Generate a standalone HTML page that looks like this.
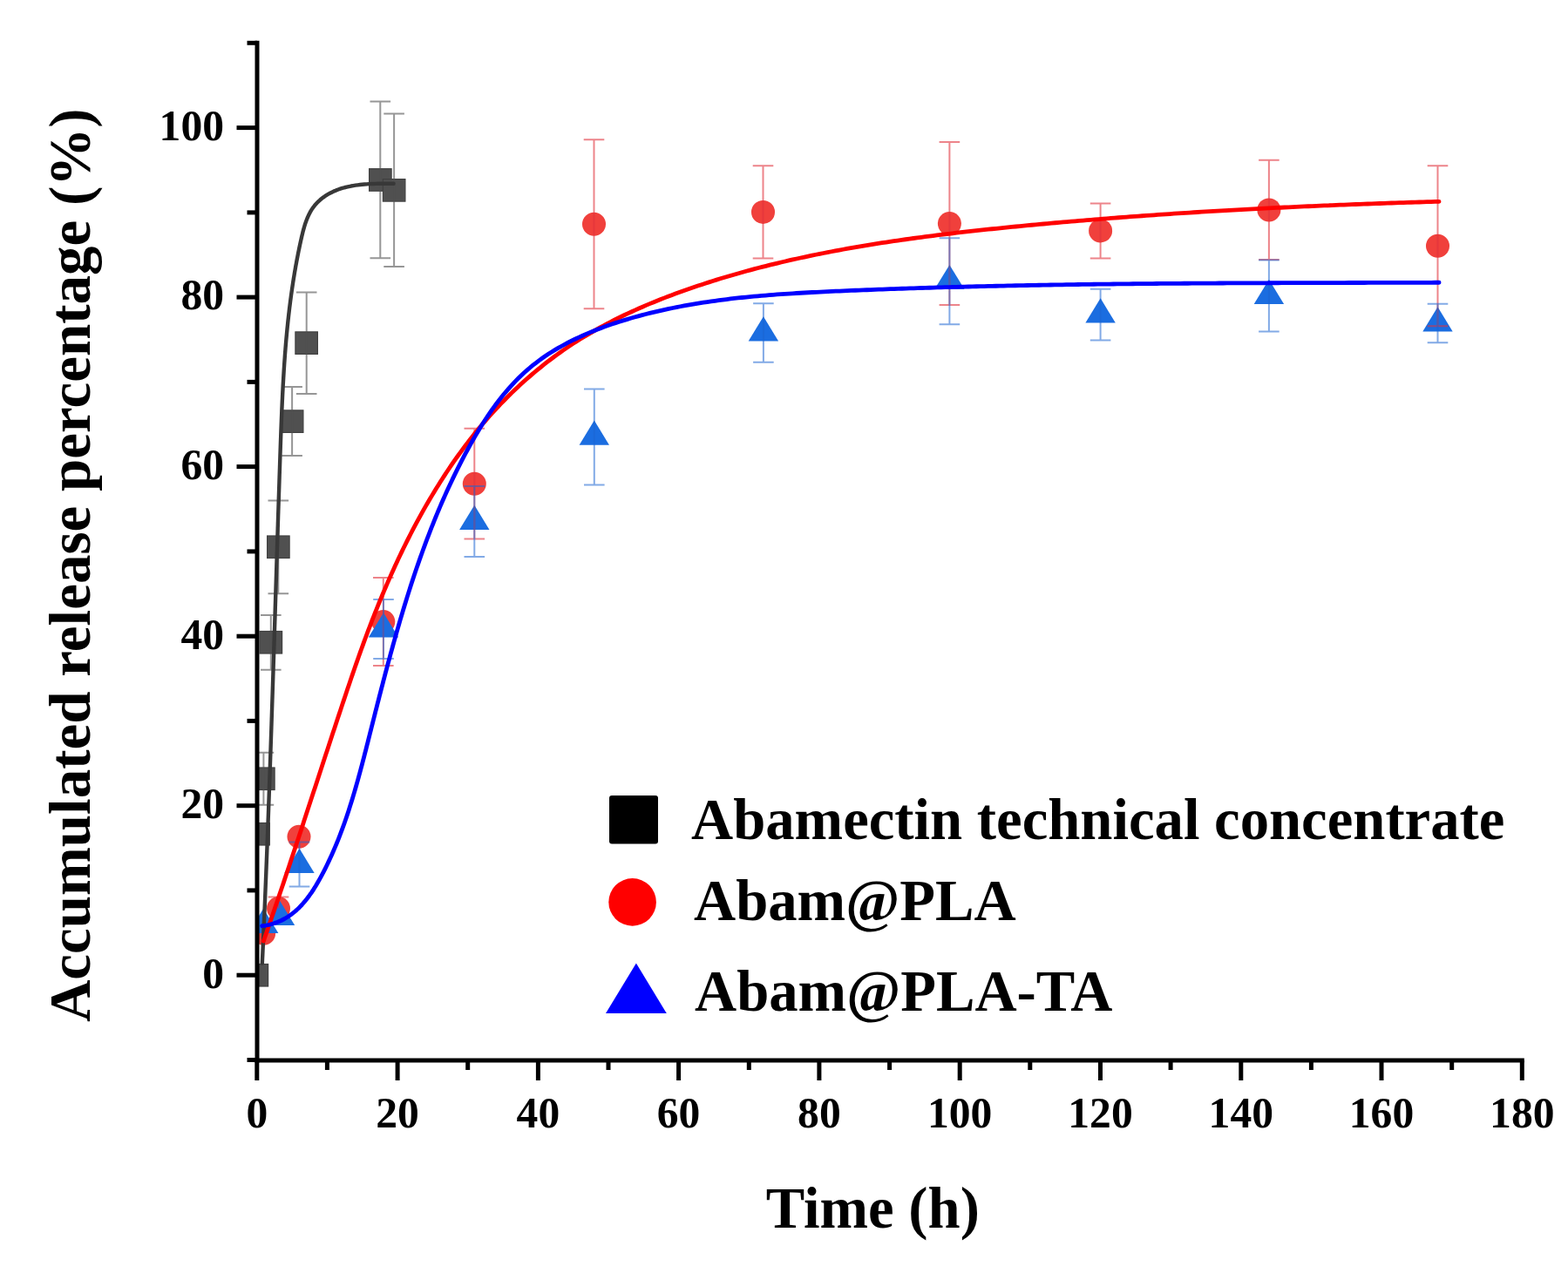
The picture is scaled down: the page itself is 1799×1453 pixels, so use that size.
<!DOCTYPE html>
<html><head><meta charset="utf-8"><title>Accumulated release percentage</title>
<style>html,body{margin:0;padding:0;background:#fff;width:1799px;height:1453px;overflow:hidden}svg{display:block}</style>
</head><body>
<svg width="1799" height="1453" viewBox="0 0 1799 1453">
<rect width="1799" height="1453" fill="#fff"/>
<style>
.tk{font-family:"Liberation Serif","Times New Roman",serif;font-weight:bold;font-size:49.6px;fill:#000}
.tt{font-family:"Liberation Serif","Times New Roman",serif;font-weight:bold;font-size:66.7px;fill:#000}
</style>
<defs><clipPath id="pc"><rect x="295" y="0" width="1504" height="1217"/></clipPath></defs>
<g id="markers" clip-path="url(#pc)">
<rect x="282.1" y="1106.5" width="25.5" height="25.5" fill="#505050" stroke="#404040" stroke-width="1.2"/>
<rect x="283.8" y="944.5" width="25.5" height="25.5" fill="#505050" stroke="#404040" stroke-width="1.2"/>
<rect x="289.6" y="881.0" width="25.5" height="25.5" fill="#505050" stroke="#404040" stroke-width="1.2"/>
<rect x="298.1" y="724.5" width="25.5" height="25.5" fill="#505050" stroke="#404040" stroke-width="1.2"/>
<rect x="306.6" y="615.0" width="25.5" height="25.5" fill="#505050" stroke="#404040" stroke-width="1.2"/>
<rect x="322.4" y="470.9" width="25.5" height="25.5" fill="#505050" stroke="#404040" stroke-width="1.2"/>
<rect x="338.9" y="380.9" width="25.5" height="25.5" fill="#505050" stroke="#404040" stroke-width="1.2"/>
<rect x="423.6" y="193.7" width="25.5" height="25.5" fill="#505050" stroke="#404040" stroke-width="1.2"/>
<rect x="439.4" y="205.6" width="25.5" height="25.5" fill="#505050" stroke="#404040" stroke-width="1.2"/>
<circle cx="302.6" cy="1071.2" r="13.5" fill="#f0403c"/>
<circle cx="319.5" cy="1042.6" r="13.5" fill="#f0403c"/>
<circle cx="343.0" cy="960.2" r="13.5" fill="#f0403c"/>
<circle cx="439.8" cy="713.5" r="13.5" fill="#f0403c"/>
<circle cx="544.3" cy="555.2" r="13.5" fill="#f0403c"/>
<circle cx="681.5" cy="257.2" r="13.5" fill="#f0403c"/>
<circle cx="875.5" cy="243.4" r="13.5" fill="#f0403c"/>
<circle cx="1089.4" cy="256.6" r="13.5" fill="#f0403c"/>
<circle cx="1262.6" cy="264.9" r="13.5" fill="#f0403c"/>
<circle cx="1455.9" cy="240.9" r="13.5" fill="#f0403c"/>
<circle cx="1649.5" cy="282.3" r="13.5" fill="#f0403c"/>
<path d="M302.2,1042.7 L319.4,1070.9 L285.0,1070.9 Z" fill="#1b6de0"/>
<path d="M321.0,1033.7 L338.2,1061.9 L303.8,1061.9 Z" fill="#1b6de0"/>
<path d="M343.5,973.7 L360.7,1001.9 L326.3,1001.9 Z" fill="#1b6de0"/>
<path d="M440.0,703.2 L457.2,731.4 L422.8,731.4 Z" fill="#1b6de0"/>
<path d="M544.3,579.7 L561.5,607.9 L527.1,607.9 Z" fill="#1b6de0"/>
<path d="M681.8,482.6 L699.0,510.8 L664.6,510.8 Z" fill="#1b6de0"/>
<path d="M875.9,363.2 L893.1,391.4 L858.7,391.4 Z" fill="#1b6de0"/>
<path d="M1089.4,303.9 L1106.6,332.1 L1072.2,332.1 Z" fill="#1b6de0"/>
<path d="M1262.6,342.3 L1279.8,370.5 L1245.4,370.5 Z" fill="#1b6de0"/>
<path d="M1455.9,320.7 L1473.1,348.9 L1438.7,348.9 Z" fill="#1b6de0"/>
<path d="M1649.5,352.2 L1666.7,380.4 L1632.3,380.4 Z" fill="#1b6de0"/>
</g>
<g id="err" clip-path="url(#pc)">
<path d="M302.4,863.7 V923.7 M290.6,863.7 H314.2 M290.6,923.7 H314.2" stroke="rgba(80,80,80,0.6)" stroke-width="2" fill="none"/>
<path d="M310.8,705.9 V768.7 M299.0,705.9 H322.6 M299.0,768.7 H322.6" stroke="rgba(80,80,80,0.6)" stroke-width="2" fill="none"/>
<path d="M319.3,574.4 V681.2 M307.5,574.4 H331.1 M307.5,681.2 H331.1" stroke="rgba(80,80,80,0.6)" stroke-width="2" fill="none"/>
<path d="M335.1,444.1 V523.1 M323.3,444.1 H346.9 M323.3,523.1 H346.9" stroke="rgba(80,80,80,0.6)" stroke-width="2" fill="none"/>
<path d="M351.7,335.5 V451.9 M339.9,335.5 H363.5 M339.9,451.9 H363.5" stroke="rgba(80,80,80,0.6)" stroke-width="2" fill="none"/>
<path d="M436.3,116.5 V296.3 M424.5,116.5 H448.1 M424.5,296.3 H448.1" stroke="rgba(80,80,80,0.6)" stroke-width="2" fill="none"/>
<path d="M452.1,130.6 V306.0 M440.3,130.6 H463.9 M440.3,306.0 H463.9" stroke="rgba(80,80,80,0.6)" stroke-width="2" fill="none"/>
<path d="M319.5,1029.6 V1042.6 M307.7,1029.6 H331.3" stroke="rgba(225,50,60,0.6)" stroke-width="2" fill="none"/>
<path d="M439.8,663.0 V764.0 M428.0,663.0 H451.6 M428.0,764.0 H451.6" stroke="rgba(225,50,60,0.6)" stroke-width="2" fill="none"/>
<path d="M544.3,491.8 V618.6 M532.5,491.8 H556.1 M532.5,618.6 H556.1" stroke="rgba(225,50,60,0.6)" stroke-width="2" fill="none"/>
<path d="M681.5,160.2 V354.2 M669.7,160.2 H693.3 M669.7,354.2 H693.3" stroke="rgba(225,50,60,0.6)" stroke-width="2" fill="none"/>
<path d="M875.5,190.2 V296.6 M863.7,190.2 H887.3 M863.7,296.6 H887.3" stroke="rgba(225,50,60,0.6)" stroke-width="2" fill="none"/>
<path d="M1089.4,163.1 V350.1 M1077.6,163.1 H1101.2 M1077.6,350.1 H1101.2" stroke="rgba(225,50,60,0.6)" stroke-width="2" fill="none"/>
<path d="M1262.6,233.4 V296.4 M1250.8,233.4 H1274.4 M1250.8,296.4 H1274.4" stroke="rgba(225,50,60,0.6)" stroke-width="2" fill="none"/>
<path d="M1455.9,183.7 V298.1 M1444.1,183.7 H1467.7 M1444.1,298.1 H1467.7" stroke="rgba(225,50,60,0.6)" stroke-width="2" fill="none"/>
<path d="M1649.5,190.3 V374.3 M1637.7,190.3 H1661.3 M1637.7,374.3 H1661.3" stroke="rgba(225,50,60,0.6)" stroke-width="2" fill="none"/>
<path d="M343.5,966.5 V1017.5 M331.7,966.5 H355.3 M331.7,1017.5 H355.3" stroke="rgba(27,100,210,0.55)" stroke-width="2" fill="none"/>
<path d="M440.0,688.0 V756.0 M428.2,688.0 H451.8 M428.2,756.0 H451.8" stroke="rgba(27,100,210,0.55)" stroke-width="2" fill="none"/>
<path d="M544.3,558.0 V639.0 M532.5,558.0 H556.1 M532.5,639.0 H556.1" stroke="rgba(27,100,210,0.55)" stroke-width="2" fill="none"/>
<path d="M681.8,446.4 V556.4 M670.0,446.4 H693.6 M670.0,556.4 H693.6" stroke="rgba(27,100,210,0.55)" stroke-width="2" fill="none"/>
<path d="M875.9,348.2 V415.8 M864.1,348.2 H887.7 M864.1,415.8 H887.7" stroke="rgba(27,100,210,0.55)" stroke-width="2" fill="none"/>
<path d="M1089.4,273.2 V372.2 M1077.6,273.2 H1101.2 M1077.6,372.2 H1101.2" stroke="rgba(27,100,210,0.55)" stroke-width="2" fill="none"/>
<path d="M1262.6,331.8 V390.4 M1250.8,331.8 H1274.4 M1250.8,390.4 H1274.4" stroke="rgba(27,100,210,0.55)" stroke-width="2" fill="none"/>
<path d="M1455.9,298.5 V380.5 M1444.1,298.5 H1467.7 M1444.1,380.5 H1467.7" stroke="rgba(27,100,210,0.55)" stroke-width="2" fill="none"/>
<path d="M1649.5,348.8 V393.2 M1637.7,348.8 H1661.3 M1637.7,393.2 H1661.3" stroke="rgba(27,100,210,0.55)" stroke-width="2" fill="none"/>
</g>
<g id="curves" fill="none" stroke-linejoin="round" stroke-linecap="round">
<path d="M300.83,1105.57 L300.94,1103.13 L301.06,1100.70 L301.17,1098.26 L301.28,1095.82 L301.39,1093.39 L301.50,1090.95 L301.62,1088.51 L301.73,1086.08 L301.84,1083.64 L301.95,1081.20 L302.05,1078.77 L302.16,1076.33 L302.27,1073.90 L302.38,1071.46 L302.49,1069.02 L302.60,1066.59 L302.70,1064.15 L302.81,1061.71 L302.92,1059.28 L303.02,1056.84 L303.13,1054.41 L303.23,1051.97 L303.34,1049.53 L303.44,1047.10 L303.54,1044.66 L303.65,1042.22 L303.75,1039.79 L303.85,1037.35 L303.96,1034.92 L304.06,1032.48 L304.16,1030.04 L304.26,1027.61 L304.36,1025.17 L304.46,1022.74 L304.56,1020.30 L304.66,1017.86 L304.76,1015.43 L304.86,1012.99 L304.96,1010.56 L305.06,1008.12 L305.16,1005.68 L305.26,1003.25 L305.35,1000.81 L305.45,998.38 L305.55,995.94 L305.64,993.50 L305.74,991.07 L305.84,988.63 L305.93,986.20 L306.03,983.76 L306.12,981.32 L306.22,978.89 L306.31,976.45 L306.41,974.02 L306.50,971.58 L306.59,969.14 L306.69,966.71 L306.78,964.27 L306.87,961.84 L306.97,959.40 L307.06,956.96 L307.15,954.53 L307.24,952.09 L307.33,949.66 L307.42,947.22 L307.52,944.79 L307.61,942.35 L307.70,939.91 L307.79,937.48 L307.88,935.04 L307.97,932.61 L308.06,930.17 L308.14,927.73 L308.23,925.30 L308.32,922.86 L308.41,920.43 L308.50,917.99 L308.59,915.56 L308.67,913.12 L308.76,910.68 L308.85,908.25 L308.94,905.81 L309.02,903.38 L309.11,900.94 L309.19,898.51 L309.28,896.07 L309.37,893.63 L309.45,891.20 L309.54,888.76 L309.62,886.33 L309.71,883.89 L309.79,881.46 L309.88,879.02 L309.96,876.58 L310.05,874.15 L310.13,871.71 L310.21,869.28 L310.30,866.84 L310.38,864.40 L310.46,861.97 L310.55,859.53 L310.63,857.10 L310.71,854.66 L310.80,852.23 L310.88,849.79 L310.96,847.35 L311.04,844.92 L311.12,842.48 L311.21,840.05 L311.29,837.61 L311.37,835.18 L311.45,832.74 L311.53,830.30 L311.61,827.87 L311.69,825.43 L311.77,823.00 L311.85,820.56 L311.93,818.13 L312.01,815.69 L312.09,813.25 L312.17,810.82 L312.25,808.38 L312.33,805.95 L312.41,803.51 L312.49,801.07 L312.57,798.64 L312.65,796.20 L312.73,793.77 L312.81,791.33 L312.89,788.90 L312.97,786.46 L313.05,784.02 L313.13,781.59 L313.20,779.15 L313.28,776.72 L313.36,774.28 L313.44,771.85 L313.52,769.41 L313.60,766.97 L313.67,764.54 L313.75,762.10 L313.83,759.67 L313.91,757.23 L313.99,754.79 L314.06,752.36 L314.14,749.92 L314.22,747.49 L314.30,745.05 L314.37,742.61 L314.45,740.18 L314.53,737.74 L314.61,735.31 L314.68,732.87 L314.76,730.43 L314.84,728.00 L314.91,725.56 L314.99,723.13 L315.07,720.69 L315.15,718.25 L315.22,715.82 L315.30,713.38 L315.38,710.95 L315.45,708.51 L315.53,706.07 L315.61,703.64 L315.68,701.20 L315.76,698.77 L315.84,696.33 L315.91,693.89 L315.99,691.46 L316.07,689.02 L316.14,686.59 L316.22,684.15 L316.30,681.71 L316.37,679.28 L316.45,676.84 L316.53,674.40 L316.60,671.97 L316.68,669.53 L316.76,667.10 L316.84,664.66 L316.91,662.22 L316.99,659.79 L317.07,657.35 L317.14,654.91 L317.22,652.48 L317.30,650.04 L317.37,647.60 L317.45,645.17 L317.53,642.73 L317.61,640.30 L317.68,637.86 L317.76,635.42 L317.84,632.99 L317.92,630.55 L317.99,628.11 L318.07,625.68 L318.15,623.24 L318.23,620.80 L318.30,618.37 L318.38,615.93 L318.46,613.49 L318.54,611.06 L318.62,608.62 L318.69,606.18 L318.77,603.75 L318.85,601.31 L318.93,598.87 L319.01,596.44 L319.09,594.00 L319.16,591.56 L319.24,589.13 L319.32,586.69 L319.40,584.25 L319.48,581.82 L319.56,579.38 L319.64,576.94 L319.72,574.51 L319.80,572.07 L319.88,569.63 L319.96,567.20 L320.04,564.76 L320.12,562.32 L320.20,559.89 L320.28,557.45 L320.36,555.01 L320.44,552.57 L320.52,550.14 L320.60,547.70 L320.68,545.26 L320.76,542.83 L320.85,540.39 L320.93,537.95 L321.01,535.51 L321.09,533.08 L321.17,530.64 L321.25,528.20 L321.34,525.77 L321.42,523.33 L321.50,520.89 L321.58,518.45 L321.67,516.02 L321.75,513.58 L321.83,511.14 L321.92,508.70 L322.00,506.27 L322.09,503.83 L322.18,501.39 L322.26,498.96 L322.35,496.52 L322.44,494.08 L322.53,491.64 L322.62,489.21 L322.71,486.77 L322.81,484.33 L322.90,481.90 L323.00,479.46 L323.10,477.02 L323.19,474.59 L323.30,472.15 L323.40,469.71 L323.50,467.28 L323.61,464.84 L323.72,462.41 L323.83,459.97 L323.95,457.53 L324.06,455.10 L324.18,452.66 L324.30,450.23 L324.43,447.79 L324.55,445.36 L324.68,442.92 L324.81,440.49 L324.95,438.06 L325.09,435.62 L325.23,433.19 L325.37,430.76 L325.52,428.32 L325.67,425.89 L325.83,423.46 L325.99,421.02 L326.15,418.59 L326.31,416.16 L326.48,413.73 L326.66,411.30 L326.83,408.87 L327.01,406.44 L327.20,404.01 L327.39,401.58 L327.58,399.15 L327.78,396.72 L327.98,394.29 L328.19,391.86 L328.40,389.43 L328.62,387.00 L328.84,384.58 L329.07,382.15 L329.30,379.72 L329.54,377.30 L329.78,374.87 L330.03,372.44 L330.28,370.02 L330.54,367.60 L330.80,365.17 L331.07,362.75 L331.35,360.32 L331.63,357.90 L331.91,355.48 L332.21,353.06 L332.50,350.64 L332.81,348.21 L333.12,345.79 L333.44,343.37 L333.76,340.96 L334.09,338.54 L334.43,336.12 L334.77,333.70 L335.12,331.28 L335.48,328.87 L335.84,326.45 L336.21,324.03 L336.59,321.62 L336.97,319.20 L337.37,316.79 L337.77,314.38 L338.17,311.96 L338.59,309.55 L339.01,307.14 L339.44,304.73 L339.88,302.32 L340.32,299.91 L340.78,297.50 L341.24,295.09 L341.71,292.69 L342.18,290.28 L342.67,287.87 L343.16,285.47 L343.67,283.06 L344.18,280.66 L344.70,278.25 L345.22,275.85 L345.76,273.45 L346.31,271.05 L346.88,268.66 L347.47,266.28 L348.09,263.92 L348.74,261.57 L349.42,259.25 L350.15,256.95 L350.92,254.68 L351.74,252.45 L352.62,250.25 L353.56,248.09 L354.56,245.98 L355.63,243.92 L356.78,241.91 L358.00,239.95 L359.31,238.05 L360.71,236.22 L362.20,234.45 L363.77,232.75 L365.43,231.11 L367.16,229.54 L368.97,228.03 L370.84,226.59 L372.79,225.22 L374.81,223.91 L376.88,222.68 L379.01,221.51 L381.20,220.41 L383.44,219.37 L385.72,218.41 L388.05,217.52 L390.43,216.69 L392.84,215.94 L395.28,215.25 L397.75,214.62 L400.25,214.05 L402.77,213.54 L405.31,213.09 L407.86,212.68 L410.42,212.32 L412.99,212.01 L415.56,211.74 L418.13,211.51 L420.69,211.32 L423.24,211.16 L425.78,211.03 L428.30,210.93 L430.79,210.85 L433.27,210.79 L435.71,210.76 L438.12,210.74 L440.49,210.73 L442.82,210.73 L445.10,210.74 L447.33,210.75 L449.51,210.77 L451.64,210.78" stroke="#383838" stroke-width="4.4"/>
<path d="M302.32,1080.14 L303.84,1075.79 L305.36,1071.44 L306.87,1067.09 L308.37,1062.75 L309.87,1058.41 L311.37,1054.07 L312.86,1049.74 L314.34,1045.41 L315.82,1041.08 L317.30,1036.75 L318.77,1032.43 L320.23,1028.11 L321.70,1023.80 L323.15,1019.49 L324.61,1015.18 L326.06,1010.87 L327.50,1006.57 L328.94,1002.27 L330.38,997.97 L331.81,993.68 L333.25,989.38 L334.67,985.10 L336.10,980.81 L337.52,976.53 L338.94,972.25 L340.35,967.97 L341.77,963.70 L343.18,959.42 L344.58,955.16 L345.99,950.89 L347.39,946.63 L348.79,942.36 L350.19,938.11 L351.59,933.85 L352.98,929.60 L354.38,925.35 L355.77,921.10 L357.16,916.85 L358.55,912.61 L359.94,908.37 L361.33,904.13 L362.71,899.90 L364.10,895.67 L365.48,891.44 L366.86,887.21 L368.25,882.98 L369.63,878.76 L371.01,874.54 L372.40,870.32 L373.78,866.10 L375.16,861.89 L376.54,857.68 L377.93,853.47 L379.31,849.26 L380.70,845.06 L382.08,840.85 L383.47,836.65 L384.85,832.45 L386.24,828.26 L387.63,824.06 L389.02,819.87 L390.41,815.68 L391.80,811.49 L393.20,807.31 L394.60,803.12 L395.99,798.94 L397.40,794.76 L398.80,790.58 L400.21,786.40 L401.63,782.23 L403.05,778.06 L404.48,773.88 L405.91,769.71 L407.35,765.55 L408.81,761.38 L410.27,757.21 L411.74,753.05 L413.22,748.89 L414.71,744.72 L416.22,740.56 L417.74,736.41 L419.27,732.25 L420.82,728.09 L422.38,723.94 L423.95,719.79 L425.54,715.63 L427.15,711.48 L428.77,707.34 L430.40,703.19 L432.06,699.05 L433.72,694.91 L435.41,690.77 L437.12,686.63 L438.84,682.50 L440.58,678.37 L442.34,674.24 L444.11,670.11 L445.91,665.99 L447.73,661.87 L449.56,657.75 L451.42,653.64 L453.30,649.53 L455.20,645.42 L457.12,641.32 L459.06,637.22 L461.02,633.13 L463.01,629.04 L465.02,624.96 L467.05,620.89 L469.10,616.82 L471.17,612.77 L473.27,608.72 L475.39,604.68 L477.53,600.65 L479.70,596.64 L481.89,592.63 L484.10,588.63 L486.33,584.65 L488.59,580.68 L490.88,576.72 L493.19,572.78 L495.52,568.85 L497.88,564.93 L500.26,561.03 L502.67,557.15 L505.10,553.28 L507.55,549.43 L510.04,545.59 L512.55,541.78 L515.08,537.98 L517.64,534.20 L520.23,530.44 L522.84,526.70 L525.48,522.99 L528.15,519.29 L530.84,515.61 L533.56,511.96 L536.31,508.33 L539.08,504.73 L541.88,501.14 L544.71,497.59 L547.57,494.05 L550.46,490.55 L553.37,487.06 L556.32,483.61 L559.29,480.18 L562.29,476.78 L565.32,473.41 L568.38,470.07 L571.47,466.75 L574.58,463.47 L577.73,460.21 L580.90,456.99 L584.10,453.80 L587.33,450.63 L590.59,447.50 L593.88,444.40 L597.19,441.33 L600.53,438.29 L603.90,435.29 L607.30,432.32 L610.72,429.38 L614.17,426.48 L617.64,423.61 L621.14,420.77 L624.67,417.97 L628.22,415.20 L631.80,412.47 L635.41,409.77 L639.04,407.11 L642.70,404.49 L646.38,401.90 L650.09,399.36 L653.82,396.84 L657.57,394.37 L661.35,391.93 L665.16,389.53 L668.99,387.17 L672.84,384.85 L676.71,382.56 L680.60,380.30 L684.52,378.08 L688.46,375.90 L692.41,373.75 L696.39,371.63 L700.39,369.55 L704.40,367.50 L708.43,365.48 L712.48,363.49 L716.55,361.53 L720.63,359.60 L724.73,357.71 L728.85,355.84 L732.97,354.00 L737.12,352.19 L741.27,350.41 L745.44,348.65 L749.63,346.92 L753.82,345.22 L758.03,343.55 L762.24,341.89 L766.47,340.27 L770.71,338.67 L774.96,337.09 L779.21,335.53 L783.48,334.00 L787.75,332.49 L792.03,331.00 L796.31,329.53 L800.60,328.08 L804.90,326.66 L809.20,325.25 L813.51,323.86 L817.82,322.50 L822.14,321.15 L826.47,319.82 L830.80,318.51 L835.13,317.22 L839.47,315.94 L843.82,314.69 L848.17,313.45 L852.52,312.24 L856.88,311.04 L861.25,309.85 L865.62,308.69 L869.99,307.54 L874.37,306.41 L878.75,305.30 L883.14,304.20 L887.53,303.12 L891.93,302.05 L896.33,301.01 L900.73,299.97 L905.14,298.96 L909.56,297.95 L913.97,296.97 L918.39,296.00 L922.82,295.04 L927.25,294.10 L931.68,293.17 L936.12,292.26 L940.55,291.36 L945.00,290.48 L949.44,289.60 L953.89,288.75 L958.35,287.90 L962.80,287.07 L967.26,286.25 L971.72,285.45 L976.19,284.65 L980.66,283.87 L985.13,283.10 L989.60,282.35 L994.08,281.60 L998.56,280.87 L1003.04,280.14 L1007.52,279.43 L1012.01,278.73 L1016.50,278.04 L1020.99,277.36 L1025.49,276.70 L1029.98,276.04 L1034.48,275.39 L1038.98,274.75 L1043.48,274.12 L1047.99,273.50 L1052.49,272.89 L1057.00,272.29 L1061.51,271.69 L1066.02,271.11 L1070.53,270.53 L1075.05,269.96 L1079.56,269.40 L1084.08,268.85 L1088.60,268.31 L1093.12,267.77 L1097.64,267.24 L1102.16,266.71 L1106.68,266.20 L1111.20,265.69 L1115.73,265.18 L1120.25,264.69 L1124.78,264.19 L1129.31,263.71 L1133.83,263.23 L1138.36,262.75 L1142.89,262.28 L1147.42,261.82 L1151.95,261.36 L1156.47,260.90 L1161.00,260.45 L1165.53,260.01 L1170.06,259.57 L1174.59,259.13 L1179.12,258.69 L1183.65,258.26 L1188.18,257.84 L1192.71,257.41 L1197.24,256.99 L1201.77,256.58 L1206.30,256.17 L1210.83,255.76 L1215.36,255.36 L1219.89,254.96 L1224.42,254.56 L1228.95,254.17 L1233.48,253.78 L1238.01,253.40 L1242.54,253.02 L1247.07,252.64 L1251.61,252.27 L1256.14,251.90 L1260.67,251.53 L1265.20,251.17 L1269.73,250.81 L1274.26,250.45 L1278.79,250.10 L1283.33,249.75 L1287.86,249.41 L1292.39,249.07 L1296.92,248.73 L1301.45,248.39 L1305.99,248.06 L1310.52,247.74 L1315.05,247.41 L1319.58,247.09 L1324.12,246.77 L1328.65,246.46 L1333.18,246.15 L1337.72,245.84 L1342.25,245.53 L1346.78,245.23 L1351.32,244.94 L1355.85,244.64 L1360.39,244.35 L1364.92,244.06 L1369.45,243.77 L1373.99,243.49 L1378.52,243.21 L1383.06,242.94 L1387.59,242.66 L1392.13,242.39 L1396.67,242.13 L1401.20,241.86 L1405.74,241.60 L1410.27,241.34 L1414.81,241.09 L1419.35,240.83 L1423.88,240.58 L1428.42,240.34 L1432.96,240.09 L1437.50,239.85 L1442.03,239.61 L1446.57,239.38 L1451.11,239.14 L1455.65,238.91 L1460.19,238.69 L1464.73,238.46 L1469.26,238.24 L1473.80,238.02 L1478.34,237.80 L1482.88,237.59 L1487.42,237.38 L1491.96,237.17 L1496.50,236.96 L1501.04,236.76 L1505.59,236.56 L1510.13,236.36 L1514.67,236.16 L1519.21,235.97 L1523.75,235.78 L1528.29,235.59 L1532.84,235.40 L1537.38,235.21 L1541.92,235.03 L1546.47,234.85 L1551.01,234.68 L1555.55,234.50 L1560.10,234.33 L1564.64,234.16 L1569.19,233.99 L1573.73,233.82 L1578.28,233.66 L1582.82,233.49 L1587.37,233.33 L1591.92,233.18 L1596.46,233.02 L1601.01,232.87 L1605.56,232.72 L1610.10,232.57 L1614.65,232.42 L1619.20,232.27 L1623.75,232.13 L1628.30,231.99 L1632.85,231.85 L1637.40,231.71 L1641.95,231.57 L1646.50,231.44 L1651.05,231.31" stroke="#ff0000" stroke-width="4.8"/>
<path d="M300.64,1062.71 L305.40,1062.02 L309.98,1061.04 L314.37,1059.79 L318.57,1058.27 L322.60,1056.50 L326.47,1054.50 L330.17,1052.27 L333.72,1049.84 L337.12,1047.20 L340.39,1044.38 L343.52,1041.39 L346.52,1038.24 L349.40,1034.94 L352.17,1031.51 L354.84,1027.96 L357.41,1024.31 L359.88,1020.56 L362.27,1016.73 L364.58,1012.83 L366.82,1008.87 L368.99,1004.88 L371.11,1000.85 L373.17,996.81 L375.18,992.75 L377.14,988.66 L379.05,984.56 L380.92,980.45 L382.74,976.31 L384.51,972.16 L386.25,968.00 L387.94,963.82 L389.59,959.62 L391.20,955.41 L392.78,951.19 L394.32,946.95 L395.83,942.71 L397.30,938.45 L398.74,934.17 L400.15,929.89 L401.53,925.60 L402.89,921.30 L404.22,916.98 L405.53,912.66 L406.81,908.33 L408.07,904.00 L409.31,899.65 L410.53,895.30 L411.73,890.95 L412.92,886.58 L414.10,882.22 L415.26,877.85 L416.41,873.47 L417.55,869.09 L418.68,864.71 L419.80,860.32 L420.91,855.94 L422.03,851.55 L423.13,847.16 L424.24,842.77 L425.35,838.38 L426.45,834.00 L427.56,829.61 L428.67,825.22 L429.78,820.84 L430.89,816.45 L432.01,812.07 L433.13,807.69 L434.25,803.31 L435.37,798.93 L436.50,794.56 L437.63,790.18 L438.77,785.81 L439.91,781.44 L441.05,777.07 L442.20,772.71 L443.36,768.35 L444.52,763.99 L445.69,759.63 L446.87,755.28 L448.05,750.93 L449.24,746.58 L450.44,742.24 L451.65,737.90 L452.86,733.56 L454.08,729.23 L455.32,724.90 L456.56,720.58 L457.81,716.26 L459.07,711.95 L460.35,707.64 L461.63,703.33 L462.92,699.03 L464.23,694.74 L465.55,690.45 L466.88,686.16 L468.22,681.88 L469.57,677.61 L470.94,673.34 L472.32,669.08 L473.72,664.82 L475.13,660.57 L476.56,656.33 L478.00,652.09 L479.45,647.86 L480.92,643.64 L482.41,639.42 L483.91,635.21 L485.43,631.01 L486.96,626.81 L488.52,622.62 L490.09,618.44 L491.68,614.27 L493.29,610.10 L494.91,605.94 L496.56,601.80 L498.22,597.65 L499.90,593.52 L501.61,589.40 L503.33,585.28 L505.08,581.17 L506.84,577.07 L508.63,572.98 L510.44,568.90 L512.27,564.83 L514.12,560.77 L516.00,556.72 L517.90,552.68 L519.82,548.64 L521.77,544.62 L523.74,540.61 L525.73,536.61 L527.75,532.61 L529.79,528.63 L531.86,524.66 L533.96,520.70 L536.08,516.75 L538.23,512.82 L540.41,508.90 L542.61,504.99 L544.85,501.10 L547.12,497.24 L549.43,493.40 L551.77,489.58 L554.14,485.79 L556.56,482.03 L559.01,478.31 L561.50,474.61 L564.04,470.96 L566.62,467.34 L569.24,463.76 L571.91,460.23 L574.63,456.74 L577.39,453.30 L580.21,449.91 L583.07,446.57 L585.99,443.29 L588.96,440.06 L591.99,436.89 L595.08,433.78 L598.22,430.74 L601.42,427.75 L604.69,424.84 L608.01,422.00 L611.40,419.22 L614.84,416.52 L618.35,413.88 L621.91,411.31 L625.52,408.80 L629.19,406.36 L632.91,403.98 L636.67,401.66 L640.49,399.41 L644.34,397.21 L648.24,395.07 L652.18,392.99 L656.16,390.97 L660.18,389.00 L664.23,387.08 L668.32,385.22 L672.44,383.41 L676.58,381.65 L680.76,379.94 L684.96,378.28 L689.18,376.66 L693.43,375.09 L697.69,373.57 L701.98,372.09 L706.28,370.65 L710.60,369.25 L714.92,367.90 L719.26,366.58 L723.61,365.30 L727.97,364.06 L732.33,362.85 L736.69,361.68 L741.06,360.54 L745.43,359.44 L749.81,358.37 L754.19,357.33 L758.58,356.33 L762.97,355.35 L767.36,354.41 L771.75,353.50 L776.15,352.61 L780.56,351.76 L784.97,350.93 L789.38,350.13 L793.79,349.36 L798.21,348.61 L802.63,347.90 L807.05,347.20 L811.48,346.53 L815.91,345.88 L820.34,345.26 L824.78,344.66 L829.21,344.08 L833.66,343.53 L838.10,342.99 L842.54,342.48 L846.99,341.98 L851.44,341.51 L855.89,341.05 L860.35,340.61 L864.81,340.19 L869.27,339.78 L873.73,339.39 L878.19,339.02 L882.65,338.66 L887.12,338.31 L891.59,337.98 L896.06,337.66 L900.53,337.36 L905.00,337.06 L909.47,336.78 L913.94,336.51 L918.42,336.24 L922.90,335.99 L927.37,335.75 L931.85,335.51 L936.33,335.28 L940.81,335.06 L945.29,334.84 L949.77,334.63 L954.25,334.42 L958.74,334.22 L963.22,334.03 L967.70,333.83 L972.18,333.64 L976.67,333.45 L981.15,333.27 L985.63,333.08 L990.11,332.90 L994.60,332.73 L999.08,332.55 L1003.57,332.38 L1008.05,332.21 L1012.53,332.04 L1017.02,331.88 L1021.50,331.72 L1025.99,331.56 L1030.47,331.40 L1034.96,331.25 L1039.44,331.09 L1043.93,330.94 L1048.41,330.80 L1052.90,330.65 L1057.39,330.51 L1061.87,330.37 L1066.36,330.23 L1070.84,330.10 L1075.33,329.96 L1079.82,329.83 L1084.31,329.70 L1088.79,329.58 L1093.28,329.45 L1097.77,329.33 L1102.26,329.21 L1106.74,329.09 L1111.23,328.98 L1115.72,328.86 L1120.21,328.75 L1124.70,328.64 L1129.19,328.54 L1133.67,328.43 L1138.16,328.33 L1142.65,328.23 L1147.14,328.13 L1151.63,328.03 L1156.12,327.93 L1160.61,327.84 L1165.10,327.75 L1169.59,327.66 L1174.08,327.57 L1178.57,327.48 L1183.07,327.40 L1187.56,327.32 L1192.05,327.23 L1196.54,327.15 L1201.03,327.08 L1205.52,327.00 L1210.02,326.93 L1214.51,326.85 L1219.00,326.78 L1223.49,326.71 L1227.99,326.65 L1232.48,326.58 L1236.97,326.51 L1241.46,326.45 L1245.96,326.39 L1250.45,326.33 L1254.95,326.27 L1259.44,326.21 L1263.93,326.16 L1268.43,326.10 L1272.92,326.05 L1277.42,326.00 L1281.91,325.94 L1286.41,325.90 L1290.90,325.85 L1295.40,325.80 L1299.89,325.75 L1304.39,325.71 L1308.88,325.67 L1313.38,325.62 L1317.88,325.58 L1322.37,325.54 L1326.87,325.51 L1331.37,325.47 L1335.86,325.43 L1340.36,325.40 L1344.86,325.36 L1349.36,325.33 L1353.85,325.29 L1358.35,325.26 L1362.85,325.23 L1367.35,325.20 L1371.85,325.17 L1376.34,325.15 L1380.84,325.12 L1385.34,325.09 L1389.84,325.07 L1394.34,325.04 L1398.84,325.02 L1403.34,325.00 L1407.84,324.97 L1412.34,324.95 L1416.84,324.93 L1421.34,324.91 L1425.84,324.89 L1430.34,324.87 L1434.84,324.85 L1439.34,324.83 L1443.84,324.82 L1448.34,324.80 L1452.85,324.78 L1457.35,324.77 L1461.85,324.75 L1466.35,324.74 L1470.85,324.72 L1475.36,324.71 L1479.86,324.70 L1484.36,324.68 L1488.86,324.67 L1493.37,324.66 L1497.87,324.64 L1502.37,324.63 L1506.88,324.62 L1511.38,324.61 L1515.89,324.60 L1520.39,324.59 L1524.89,324.58 L1529.40,324.57 L1533.90,324.55 L1538.41,324.54 L1542.91,324.53 L1547.42,324.52 L1551.92,324.51 L1556.43,324.50 L1560.93,324.49 L1565.44,324.48 L1569.95,324.47 L1574.45,324.46 L1578.96,324.45 L1583.46,324.44 L1587.97,324.43 L1592.48,324.42 L1596.99,324.41 L1601.49,324.40 L1606.00,324.39 L1610.51,324.37 L1615.02,324.36 L1619.52,324.35 L1624.03,324.34 L1628.54,324.32 L1633.05,324.31 L1637.56,324.30 L1642.06,324.28 L1646.57,324.27 L1651.08,324.26" stroke="#0000ff" stroke-width="4.8"/>
</g>
<g id="axes">
<line x1="295.0" y1="46.8" x2="295.0" y2="1219.5" stroke="#000" stroke-width="5"/>
<line x1="292.5" y1="1217.0" x2="1748.8" y2="1217.0" stroke="#000" stroke-width="5"/>
<line x1="295.0" y1="1216.5" x2="283.5" y2="1216.5" stroke="#000" stroke-width="5"/>
<line x1="295.0" y1="1119.2" x2="271.5" y2="1119.2" stroke="#000" stroke-width="5"/>
<line x1="295.0" y1="1021.9" x2="283.5" y2="1021.9" stroke="#000" stroke-width="5"/>
<line x1="295.0" y1="924.7" x2="271.5" y2="924.7" stroke="#000" stroke-width="5"/>
<line x1="295.0" y1="827.4" x2="283.5" y2="827.4" stroke="#000" stroke-width="5"/>
<line x1="295.0" y1="730.2" x2="271.5" y2="730.2" stroke="#000" stroke-width="5"/>
<line x1="295.0" y1="632.9" x2="283.5" y2="632.9" stroke="#000" stroke-width="5"/>
<line x1="295.0" y1="535.6" x2="271.5" y2="535.6" stroke="#000" stroke-width="5"/>
<line x1="295.0" y1="438.4" x2="283.5" y2="438.4" stroke="#000" stroke-width="5"/>
<line x1="295.0" y1="341.1" x2="271.5" y2="341.1" stroke="#000" stroke-width="5"/>
<line x1="295.0" y1="243.9" x2="283.5" y2="243.9" stroke="#000" stroke-width="5"/>
<line x1="295.0" y1="146.6" x2="271.5" y2="146.6" stroke="#000" stroke-width="5"/>
<line x1="295.0" y1="49.3" x2="283.5" y2="49.3" stroke="#000" stroke-width="5"/>
<line x1="294.8" y1="1217.0" x2="294.8" y2="1240.0" stroke="#000" stroke-width="5"/>
<line x1="375.4" y1="1217.0" x2="375.4" y2="1228.0" stroke="#000" stroke-width="5"/>
<line x1="456.1" y1="1217.0" x2="456.1" y2="1240.0" stroke="#000" stroke-width="5"/>
<line x1="536.7" y1="1217.0" x2="536.7" y2="1228.0" stroke="#000" stroke-width="5"/>
<line x1="617.4" y1="1217.0" x2="617.4" y2="1240.0" stroke="#000" stroke-width="5"/>
<line x1="698.0" y1="1217.0" x2="698.0" y2="1228.0" stroke="#000" stroke-width="5"/>
<line x1="778.6" y1="1217.0" x2="778.6" y2="1240.0" stroke="#000" stroke-width="5"/>
<line x1="859.3" y1="1217.0" x2="859.3" y2="1228.0" stroke="#000" stroke-width="5"/>
<line x1="939.9" y1="1217.0" x2="939.9" y2="1240.0" stroke="#000" stroke-width="5"/>
<line x1="1020.6" y1="1217.0" x2="1020.6" y2="1228.0" stroke="#000" stroke-width="5"/>
<line x1="1101.2" y1="1217.0" x2="1101.2" y2="1240.0" stroke="#000" stroke-width="5"/>
<line x1="1181.8" y1="1217.0" x2="1181.8" y2="1228.0" stroke="#000" stroke-width="5"/>
<line x1="1262.5" y1="1217.0" x2="1262.5" y2="1240.0" stroke="#000" stroke-width="5"/>
<line x1="1343.1" y1="1217.0" x2="1343.1" y2="1228.0" stroke="#000" stroke-width="5"/>
<line x1="1423.8" y1="1217.0" x2="1423.8" y2="1240.0" stroke="#000" stroke-width="5"/>
<line x1="1504.4" y1="1217.0" x2="1504.4" y2="1228.0" stroke="#000" stroke-width="5"/>
<line x1="1585.0" y1="1217.0" x2="1585.0" y2="1240.0" stroke="#000" stroke-width="5"/>
<line x1="1665.7" y1="1217.0" x2="1665.7" y2="1228.0" stroke="#000" stroke-width="5"/>
<line x1="1746.3" y1="1217.0" x2="1746.3" y2="1240.0" stroke="#000" stroke-width="5"/>
</g>
<g id="labels">
<text x="257" y="1133.5" text-anchor="end" class="tk">0</text>
<text x="257" y="939.0" text-anchor="end" class="tk">20</text>
<text x="257" y="744.5" text-anchor="end" class="tk">40</text>
<text x="257" y="549.9" text-anchor="end" class="tk">60</text>
<text x="257" y="355.4" text-anchor="end" class="tk">80</text>
<text x="257" y="160.9" text-anchor="end" class="tk">100</text>
<text x="294.8" y="1294" text-anchor="middle" class="tk">0</text>
<text x="456.1" y="1294" text-anchor="middle" class="tk">20</text>
<text x="617.4" y="1294" text-anchor="middle" class="tk">40</text>
<text x="778.6" y="1294" text-anchor="middle" class="tk">60</text>
<text x="939.9" y="1294" text-anchor="middle" class="tk">80</text>
<text x="1101.2" y="1294" text-anchor="middle" class="tk">100</text>
<text x="1262.5" y="1294" text-anchor="middle" class="tk">120</text>
<text x="1423.8" y="1294" text-anchor="middle" class="tk">140</text>
<text x="1585.0" y="1294" text-anchor="middle" class="tk">160</text>
<text x="1746.3" y="1294" text-anchor="middle" class="tk">180</text>
<text x="1001.3" y="1408.6" text-anchor="middle" class="tt">Time (h)</text>
<text transform="translate(102.7,648.7) rotate(-90)" text-anchor="middle" class="tt" style="font-size:67px">Accumulated release percentage (%)</text>
</g>
<g id="legend">
<rect x="699" y="913" width="56" height="55.5" rx="3" fill="#000"/>
<circle cx="725.6" cy="1035.4" r="27.3" fill="#ff0000"/>
<path d="M729.9,1105.6 L764.8,1163.1 L695,1163.1 Z" fill="#0000ff"/>
<text x="793" y="962.9" class="tt">Abamectin technical concentrate</text>
<text x="796" y="1056.3" class="tt">Abam@PLA</text>
<text x="797" y="1159.9" class="tt">Abam@PLA-TA</text>
</g>
</svg>
</body></html>
